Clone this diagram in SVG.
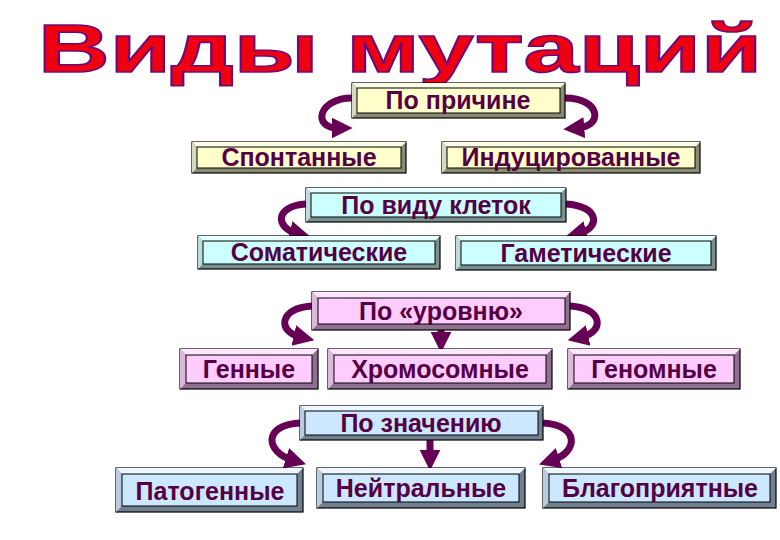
<svg xmlns="http://www.w3.org/2000/svg" width="780" height="540" viewBox="0 0 780 540">
<defs>
<style>
.t{font-family:"Liberation Sans",Arial,sans-serif;font-weight:bold;font-size:25px;fill:#550044;text-anchor:middle}
.title{font-family:"Liberation Sans",Arial,sans-serif;font-weight:bold;font-size:68px;fill:#ee0011;stroke:#6a0a7a;stroke-width:1.5}
.c{fill:none;stroke:#660055;stroke-width:7}
.o{stroke:#000;stroke-width:1.2}
.i{stroke:#000;stroke-width:1}
</style>
<marker id="ah" viewBox="0 0 10 10" refX="3" refY="5" markerWidth="3" markerHeight="3.2" orient="auto" markerUnits="strokeWidth">
<path d="M0,0 L10,5 L0,10 z" fill="#660055"/>
</marker>
</defs>
<rect width="780" height="540" fill="#fff"/>
<text class="title" x="38" y="72" textLength="724" lengthAdjust="spacingAndGlyphs">Виды мутаций</text>

<g id="connectors">
<path class="c" d="M352,98 C318,98 312,128 338,128" marker-end="url(#ah)"/>
<path class="c" d="M565,98 C600,98 604,126 578,128" marker-end="url(#ah)"/>
<path class="c" d="M306,204 C274,206 276,228 296,233" marker-end="url(#ah)"/>
<path class="c" d="M566,204 C600,206 600,228 580,233" marker-end="url(#ah)"/>
<path class="c" d="M312,306 C278,308 278,332 300,337" marker-end="url(#ah)"/>
<path class="c" d="M570,306 C604,308 604,332 582,337" marker-end="url(#ah)"/>
<path class="c" d="M441,330 L441,338" marker-end="url(#ah)"/>
<path class="c" d="M300,423 C262,425 266,452 292,460" marker-end="url(#ah)"/>
<path class="c" d="M543,423 C580,425 578,452 553,460" marker-end="url(#ah)"/>
<path class="c" d="M430,440 L430,456" marker-end="url(#ah)"/>
</g>

<g id="n1"><rect class="o" x="352" y="83" width="213" height="35" fill="#8a8a70"/><polygon points="352,83 565,83 560,88 357,88" fill="#fbfbe6"/><polygon points="352,83 357,88 357,113 352,118" fill="#d8d8c0"/><rect class="i" x="357" y="88" width="203" height="25" fill="#ffffcc"/><text class="t" x="458" y="109">По причине</text></g>
<g id="n2"><rect class="o" x="192" y="142" width="214" height="31" fill="#8a8a70"/><polygon points="192,142 406,142 401,147 197,147" fill="#fbfbe6"/><polygon points="192,142 197,147 197,168 192,173" fill="#d8d8c0"/><rect class="i" x="197" y="147" width="204" height="21" fill="#ffffcc"/><text class="t" x="299" y="166">Спонтанные</text></g>
<g id="n3"><rect class="o" x="442" y="142" width="258" height="31" fill="#8a8a70"/><polygon points="442,142 700,142 695,147 447,147" fill="#fbfbe6"/><polygon points="442,142 447,147 447,168 442,173" fill="#d8d8c0"/><rect class="i" x="447" y="147" width="248" height="21" fill="#ffffcc"/><text class="t" x="571" y="166">Индуцированные</text></g>

<g id="n4"><rect class="o" x="306" y="188" width="260" height="34" fill="#7a9090"/><polygon points="306,188 566,188 561,193 311,193" fill="#e8ffff"/><polygon points="306,188 311,193 311,217 306,222" fill="#bcdcdc"/><rect class="i" x="311" y="193" width="250" height="24" fill="#ccffff"/><text class="t" x="436" y="214">По виду клеток</text></g>
<g id="n5"><rect class="o" x="198" y="236" width="242" height="33" fill="#7a9090"/><polygon points="198,236 440,236 435,241 203,241" fill="#e8ffff"/><polygon points="198,236 203,241 203,264 198,269" fill="#bcdcdc"/><rect class="i" x="203" y="241" width="232" height="23" fill="#ccffff"/><text class="t" x="319" y="261">Соматические</text></g>
<g id="n6"><rect class="o" x="456" y="236" width="260" height="34" fill="#7a9090"/><polygon points="456,236 716,236 711,241 461,241" fill="#e8ffff"/><polygon points="456,236 461,241 461,265 456,270" fill="#bcdcdc"/><rect class="i" x="461" y="241" width="250" height="24" fill="#ccffff"/><text class="t" x="586" y="262">Гаметические</text></g>

<g id="n7"><rect class="o" x="312" y="292" width="258" height="38" fill="#907090"/><polygon points="312,292 570,292 565,298 318,298" fill="#ffe6ff"/><polygon points="312,292 318,298 318,324 312,330" fill="#dcb8dc"/><rect class="i" x="318" y="298" width="247" height="26" fill="#ffccff"/><text class="t" x="441" y="320">По «уровню»</text></g>
<g id="n8"><rect class="o" x="180" y="349" width="138" height="40" fill="#907090"/><polygon points="180,349 318,349 312,355 186,355" fill="#ffe6ff"/><polygon points="180,349 186,355 186,383 180,389" fill="#dcb8dc"/><rect class="i" x="186" y="355" width="126" height="28" fill="#ffccff"/><text class="t" x="249" y="378">Генные</text></g>
<g id="n9"><rect class="o" x="328" y="349" width="224" height="40" fill="#907090"/><polygon points="328,349 552,349 546,355 334,355" fill="#ffe6ff"/><polygon points="328,349 334,355 334,383 328,389" fill="#dcb8dc"/><rect class="i" x="334" y="355" width="212" height="28" fill="#ffccff"/><text class="t" x="440" y="378">Хромосомные</text></g>
<g id="n10"><rect class="o" x="568" y="349" width="172" height="40" fill="#907090"/><polygon points="568,349 740,349 734,355 574,355" fill="#ffe6ff"/><polygon points="568,349 574,355 574,383 568,389" fill="#dcb8dc"/><rect class="i" x="574" y="355" width="160" height="28" fill="#ffccff"/><text class="t" x="654" y="378">Геномные</text></g>

<g id="n11"><rect class="o" x="300" y="406" width="243" height="34" fill="#708090"/><polygon points="300,406 543,406 538,411 305,411" fill="#eef6ff"/><polygon points="300,406 305,411 305,435 300,440" fill="#b8cce0"/><rect class="i" x="305" y="411" width="233" height="24" fill="#cce8ff"/><text class="t" x="421" y="432">По значению</text></g>
<g id="n12"><rect class="o" x="116" y="468" width="187" height="44" fill="#708090"/><polygon points="116,468 303,468 297,474 122,474" fill="#eef6ff"/><polygon points="116,468 122,474 122,506 116,512" fill="#b8cce0"/><rect class="i" x="122" y="474" width="175" height="32" fill="#cce8ff"/><text class="t" x="210" y="500">Патогенные</text></g>
<g id="n13"><rect class="o" x="317" y="468" width="208" height="40" fill="#708090"/><polygon points="317,468 525,468 519,474 323,474" fill="#eef6ff"/><polygon points="317,468 323,474 323,502 317,508" fill="#b8cce0"/><rect class="i" x="323" y="474" width="196" height="28" fill="#cce8ff"/><text class="t" x="421" y="497">Нейтральные</text></g>
<g id="n14"><rect class="o" x="543" y="468" width="233" height="40" fill="#708090"/><polygon points="543,468 776,468 770,474 549,474" fill="#eef6ff"/><polygon points="543,468 549,474 549,502 543,508" fill="#b8cce0"/><rect class="i" x="549" y="474" width="221" height="28" fill="#cce8ff"/><text class="t" x="660" y="497">Благоприятные</text></g>
</svg>
